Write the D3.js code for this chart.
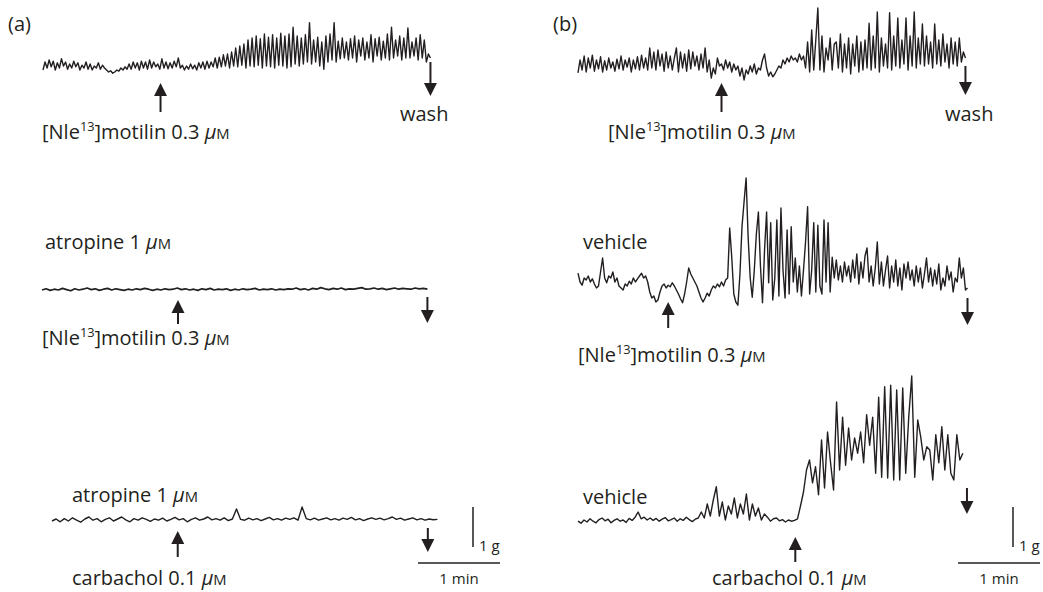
<!DOCTYPE html>
<html><head><meta charset="utf-8">
<script src="https://cdn.jsdelivr.net/npm/d3@7"></script>
<style>
body{margin:0;background:#fff}
text{font-family:"Open Sans",sans-serif;fill:#231f20}
</style>
</head><body>
<svg id="c" width="1043" height="592"></svg>
<script>
// ---------------- DATA (tension, g, relative to resting level) ----------------
const dtA1 = 1.5, dtA2 = 3, dtA3 = 3, dtB1 = 1.5, dtB2 = 1.5, dtB3 = 2.2; // s per sample

const traceA1 = [
0,.2,.05,.25,.08,.22,0,.18,.05,.28,.1,.2,.02,.15,.05,.22,.08,.18,0,.12,
.05,.2,.02,.15,0,.1,.05,.18,.02,.12,.05,0,-.05,-.02,-.08,-.05,0,-.03,.05,0,
.08,.02,.15,.02,.2,.05,.18,0,.22,.05,.2,.02,.25,.05,.2,.08,.15,.02,.28,.05,
.2,.03,.18,.05,.22,.08,.3,.05,.12,0,.1,.02,.15,.03,.12,0,.18,.05,.2,.02,
.22,.05,.2,.08,.3,.05,.32,.08,.38,.1,.4,.05,.45,.1,.55,.08,.6,.12,.65,
.05,.75,.1,.8,.08,.85,.12,.78,.05,.9,.1,.82,.08,.88,.05,.8,.12,.92,.1,.85,
.05,.9,.08,1.07,.15,.85,.1,.8,.15,.88,.2,1.18,.15,.75,.2,.82,.1,.7,.02,.85,
.2,.9,.25,1.18,.2,.72,.28,.8,.3,.7,.25,.78,.3,.85,.2,.75,.35,.8,.25,.7,
.3,.88,.2,.78,.35,.82,.25,.72,.3,.9,.25,1.07,.3,.75,.35,.85,.25,.8,.3,1.05,
.3,.7,.35,.8,.25,.88,.3,.75,.2,.4,.3];

const traceA2 = [
0,.03,-.01,.02,0,.04,.01,-.02,.03,0,.02,.05,.01,.03,-.01,.02,.04,0,.03,.01,
-.01,.02,0,.03,.01,.04,.02,-.01,.02,0,.03,.01,.02,.05,.01,.03,0,.02,-.01,.03,
.01,.04,0,.02,.01,.03,-.01,.02,0,.03,.01,.02,.04,0,.02,.01,.03,0,.02,.01,
.03,.02,.05,.01,.03,0,.04,.02,.06,.03,.01,.04,.02,.05,.01,.03,.02,.04,.06,.02,
.03,.05,.02,.04,.01,.03,.05,.02,.04,.03,.02,.05,.03,.04,.02];

const traceA3 = [
0,.05,-.02,.06,0,.08,.02,-.03,.05,.1,.02,.06,-.02,.04,.08,0,.05,.1,.03,-.02,
.06,.02,.08,.04,-.01,.05,.02,.07,0,.04,.09,.03,.06,-.02,.04,.08,.02,.05,.1,.03,
.06,.02,.08,.01,.05,.3,.04,.02,.07,.03,.06,.01,.05,.09,.03,.06,.02,.07,.04,.08,
.02,.35,.06,.03,.07,.02,.05,.08,.03,.06,.02,.07,.04,.09,.03,.06,.01,.05,.08,.04,
.07,.03,.06,.1,.04,.07,.02,.05,.08,.03,.06,.02,.05,.03,.04];

const traceB1 = [
-.02,.3,.05,.4,0,.35,.1,.42,.02,.3,.08,.38,0,.28,.05,.35,.1,.25,.02,.32,
.08,.4,.05,.3,.12,.35,0,.3,.08,.38,.05,.42,.1,.35,.05,
.6,.1,.5,.05,.55,.15,.45,.02,.5,.1,.4,.05,.35,.6,0,.5,.1,.45,.02,.55,
.08,.5,.15,.4,.05,.45,.1,.6,0,.3,
-.15,.1,-.05,.35,.15,.2,.05,.3,.1,.25,0,.2,.05,.15,-.1,.1,-.2,.05,-.05,.15,
0,.2,-.05,.1,.05,.3,.45,.1,-.1,0,-.12,-.05,
.05,.15,.1,.3,.2,.35,.25,.4,.3,.35,.25,.45,.3,.4,
.1,.75,0,1.05,.05,.8,1.6,.05,.9,0,.6,.3,.85,.05,.7,.75,.1,.95,0,.7,
.1,.85,-.05,.7,.15,.9,0,.75,.05,.8,.1,1.22,.05,.9,.1,1.5,0,.85,.15,.7,
.1,1.48,.05,.9,.15,1.35,.1,.8,.2,1.35,.05,.9,.15,1.5,.1,.85,.2,1.2,.15,.9,
.2,.75,.1,1.2,.2,.8,.15,.95,.25,.7,.1,.85,.2,.75,.15,.85,.25,.5,.35];

const traceB2 = [
.42,.2,.12,.3,.25,.35,.2,.28,.15,.05,.1,.45,.8,.3,.18,.35,.3,.45,.2,.3,
.1,.05,0,.15,.1,.22,.15,.3,.2,.28,.35,.42,.3,.35,.2,-.05,-.2,-.15,-.3,-.25,
-.05,.1,.15,.05,.12,.08,.18,.1,0,-.1,-.22,-.32,-.1,.2,.55,.4,.3,.2,.1,-.05,
-.2,-.3,-.2,-.08,-.15,0,.1,.05,.15,.08,.2,.1,.25,.3,1.55,.82,-.1,-.3,-.38,.4,
1.58,2.2,2.8,1.32,.3,-.18,.5,1.4,1.95,.6,-.32,1.0,1.95,.18,1.68,-.25,.3,1.75,-.15,2.05,
.5,-.2,1.5,-.1,1.58,.2,.8,-.05,.6,-.15,.5,1.2,2.08,-.1,.5,1.68,-.05,1.62,.1,-.1,
1.75,.2,1.68,-.05,.82,.3,.75,.25,.6,.2,.7,.35,.6,.2,.75,.3,.9,.15,.7,.3,
.85,1.05,.2,.6,.1,.55,1.2,.15,.7,.1,.5,.85,.05,.6,.2,.75,.1,.55,0,.65,
.3,.7,.25,.5,.1,.6,.2,.55,.05,.4,.8,.2,.55,.1,.5,.15,.65,0,.3,.1,
.6,.25,.45,-.05,.3,.2,.8,.3,.55,0,.05];

const traceB3 = [
.02,-.03,.05,0,.08,.02,-.02,.06,.1,.03,.07,-.02,.04,.08,.02,.05,-.01,.09,.04,.12,
.25,.08,.12,.05,.1,.04,.09,.02,.07,.11,.03,.06,.1,.02,.08,.04,.12,.06,.01,.07,.1,
.25,.1,.45,.15,.55,.88,.15,.5,.05,.4,.2,.6,.1,.45,.2,.7,.05,.45,.15,.35,.05,.2,
.12,.02,.08,.1,.03,.06,0,.05,.02,.04,
.08,.4,.75,
1.3,1.55,.98,1.38,.68,2.05,.85,2.25,1.48,.8,3.0,1.3,2.62,1.42,2.35,1.55,2.1,1.72,2.25,1.48,
2.68,1.92,2.62,1.22,3.12,1.12,3.38,1.1,3.42,1.05,3.3,1.05,3.35,1.22,2.62,3.65,1.12,2.55,2.12,1.55,
1.88,1.8,1.05,2.18,1.48,2.38,1.3,2.18,1.22,1.05,2.18,1.55,1.72];

// drug addition (up arrow) and wash (down arrow) times, s from trace start
const addTimes  = [86, 99.5, 92, 105, 66, 159];
const washTimes = [283.5, 282, 275, 283.5, 285, 284.6];

// label texts
const panelLabels = ["(a)", "(b)"];
const pretreatLabels = ["atropine 1 ", "atropine 1 ", "vehicle", "vehicle"];
const drugName = ["[Nle", "13", "]motilin 0.3 "];
const carbName = "carbachol 0.1 ";
const washLabel = "wash";
const scaleLabels = ["1 g", "1 min"];

// ---------------- LAYOUT ----------------
const PX_PER_MIN = 82, PX_PER_G = 40;
const FS = 20;
const svg = d3.select("#c");
const INK = "#231f20";

function scales(x0, y0) {
  return {
    x: d3.scaleLinear().domain([0, 60]).range([x0, x0 + PX_PER_MIN]),
    y: d3.scaleLinear().domain([0, 1]).range([y0, y0 - PX_PER_G])
  };
}

const traces = [
  {v: traceA1, dt: dtA1, x0: 43,  y0: 70,  up: [83, 112],  down: [62, 96],  sw: 1.4},
  {v: traceA2, dt: dtA2, x0: 42,  y0: 290, up: [300, 324], down: [297, 323], sw: 1.7},
  {v: traceA3, dt: dtA3, x0: 52,  y0: 521, up: [531, 557], down: [528, 552], sw: 1.4},
  {v: traceB1, dt: dtB1, x0: 578, y0: 72,  up: [83, 112],  down: [66, 95],  sw: 1.4},
  {v: traceB2, dt: dtB2, x0: 578, y0: 290, up: [302, 328], down: [298, 325], sw: 1.4},
  {v: traceB3, dt: dtB3, x0: 578, y0: 522, up: [537, 562], down: [488, 514], sw: 1.4}
];

function arrow(x, yTip, yTail, dir) {
  const hw = 6.5, hl = 13;
  const g = svg.append("g");
  const yBase = dir === "up" ? yTip + hl : yTip - hl;
  g.append("line").attr("x1", x).attr("x2", x).attr("y1", yTail).attr("y2", yBase + (dir === "up" ? -1 : 1))
    .attr("stroke", INK).attr("stroke-width", 2);
  g.append("path").attr("d", `M${x},${yTip}L${x - hw},${yBase}L${x + hw},${yBase}Z`).attr("fill", INK);
}

traces.forEach((tr, k) => {
  const s = scales(tr.x0, tr.y0);
  const line = d3.line().x((d, i) => s.x(i * tr.dt)).y(d => s.y(d));
  svg.append("path").datum(tr.v).attr("d", line)
    .attr("fill", "none").attr("stroke", INK).attr("stroke-width", tr.sw)
    .attr("stroke-linejoin", "round");
  arrow(s.x(addTimes[k]), tr.up[0], tr.up[1], "up");
  arrow(s.x(washTimes[k]), tr.down[1], tr.down[0], "down");
});

function label(x, y, parts, size) {
  size = size || FS;
  const t = svg.append("text").attr("x", x).attr("y", y).attr("font-size", size);
  parts.forEach(p => {
    const ts = t.append("tspan").text(p.t);
    if (p.sup) ts.attr("font-size", size * 0.64).attr("dy", -size * 0.38);
    if (p.down) ts.attr("dy", size * 0.38);
    if (p.it) ts.attr("font-style", "italic");
    if (p.sm) ts.attr("font-size", size * 0.74);
  });
  return t;
}
const uM = [{t: "\u03bc", it: true}, {t: "M", sm: true}];
const drugParts = [{t: drugName[0]}, {t: drugName[1], sup: true}, {t: drugName[2], down: true}, ...uM];

// panel letters
label(8, 31, [{t: panelLabels[0]}], 20);
label(553, 31, [{t: panelLabels[1]}], 20);

// (a)
label(42, 139, drugParts);
label(400, 121, [{t: washLabel}]);
label(45, 249, [{t: pretreatLabels[0]}, ...uM]);
label(42, 345, drugParts);
label(72, 502, [{t: pretreatLabels[1]}, ...uM]);
label(72, 585, [{t: carbName}, ...uM]);
// (b)
label(608, 139, drugParts);
label(945, 121, [{t: washLabel}]);
label(583, 249, [{t: pretreatLabels[2]}]);
label(578, 362, drugParts);
label(583, 504, [{t: pretreatLabels[3]}]);
label(712, 585, [{t: carbName}, ...uM]);

// scale bars (1 g, 1 min) via the same scales
[[473, 547, 418, 563], [1013, 547, 958, 563]].forEach(([vx, vy, hx, hy]) => {
  const s = scales(hx, vy);
  svg.append("line").attr("x1", vx).attr("x2", vx).attr("y1", s.y(0)).attr("y2", s.y(1))
    .attr("stroke", INK).attr("stroke-width", 1.5);
  svg.append("line").attr("x1", s.x(0)).attr("x2", s.x(60)).attr("y1", hy).attr("y2", hy)
    .attr("stroke", INK).attr("stroke-width", 1.5);
  label(vx + 6, vy + 4, [{t: scaleLabels[0]}], 15);
  label((s.x(0) + s.x(60)) / 2, hy + 21, [{t: scaleLabels[1]}], 15).attr("text-anchor", "middle");
});
</script>
</body></html>
